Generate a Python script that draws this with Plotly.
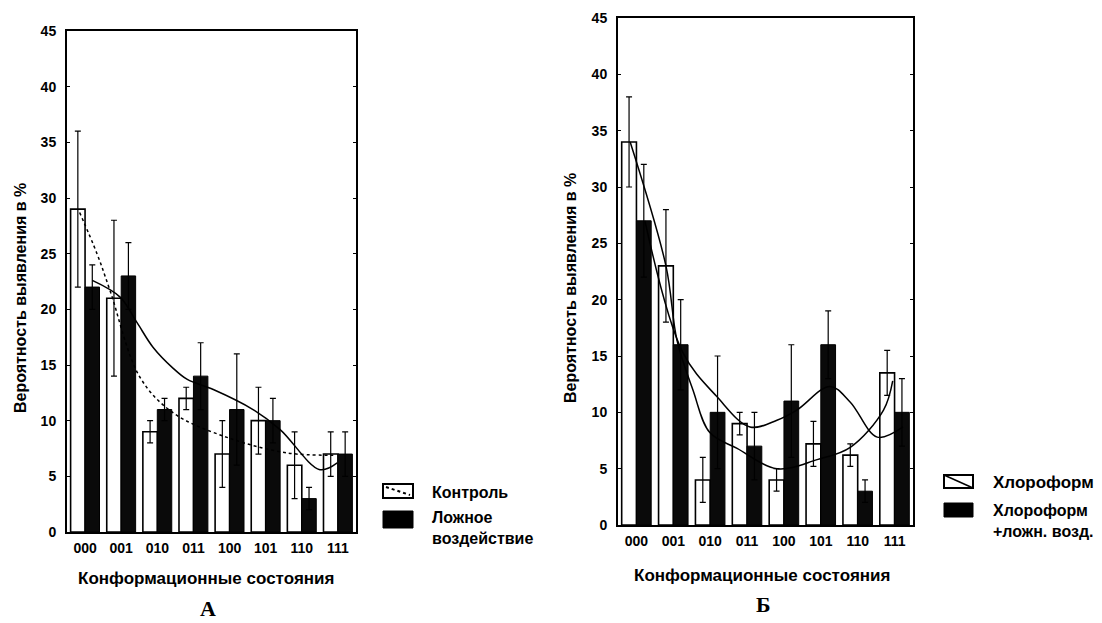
import plotly.graph_objects as go

# ---------------- data ----------------
states = ["000", "001", "010", "011", "100", "101", "110", "111"]
x_pos = [0, 1, 2, 3, 4, 5, 6, 7]

# Panel A
control = [29, 21, 9, 12, 7, 10, 6, 7]
control_err = [7, 7, 1, 1, 3, 3, 3, 2]
sham = [22, 23, 11, 14, 11, 10, 3, 7]
sham_err = [2, 3, 1, 3, 5, 2, 1, 2]
control_fit_x = [-0.15, 0.33, 0.69, 1.52, 2.44, 3.93, 5.6, 6.87]
control_fit_y = [28.7, 25.0, 21.7, 13.9, 10.7, 8.5, 7.1, 6.9]
sham_fit_x = [0.2, 0.97, 1.44, 1.88, 2.44, 2.83, 3.55, 4.65, 5.4, 6.5, 6.98]
sham_fit_y = [22.6, 21.1, 18.8, 16.6, 14.7, 13.7, 12.8, 11.0, 9.2, 5.6, 6.2]

# Panel Б
chloro = [34, 23, 4, 9, 4, 7.2, 6.2, 13.5]
chloro_err = [4, 5, 2, 1, 1, 2, 1, 2]
chloro_sham = [27, 16, 10, 7, 11, 16, 3, 10]
chloro_sham_err = [5, 4, 5, 3, 5, 3, 1, 3]
chloro_fit_x = [-0.17, 0.8, 1.1, 1.53, 1.99, 2.73, 3.81, 4.9, 5.8, 6.7, 6.95]
chloro_fit_y = [34, 23, 16.4, 12, 8.2, 6.8, 5.0, 5.8, 6.9, 10.2, 12.8]
chloro_sham_fit_x = [0.23, 1.26, 2.18, 3.08, 3.81, 4.35, 5.25, 5.8, 6.53, 7.23]
chloro_sham_fit_y = [27, 15.3, 11.4, 8.7, 9.3, 10.2, 12.3, 10.9, 7.8, 8.7]

y_ticks = [0, 5, 10, 15, 20, 25, 30, 35, 40, 45]

FONT = "Liberation Sans"
W, H = 1102, 623
OFF = 8  # page body margin of the html

fig = go.Figure()

def add_panel(xa, ya, white, werr, black, berr, wfx, wfy, bfx, bfy, wdash):
    fig.add_trace(go.Bar(
        x=x_pos, y=white, xaxis=xa, yaxis=ya, offsetgroup="w",
        marker=dict(color="white", line=dict(color="black", width=1.6)),
        error_y=dict(type="data", array=werr, color="black", thickness=1.2, width=3),
        showlegend=False))
    fig.add_trace(go.Bar(
        x=x_pos, y=black, xaxis=xa, yaxis=ya, offsetgroup="b",
        marker=dict(color="#0a0a0a", line=dict(color="black", width=1)),
        error_y=dict(type="data", array=berr, color="black", thickness=1.2, width=3),
        showlegend=False))
    fig.add_trace(go.Scatter(
        x=wfx, y=wfy, xaxis=xa, yaxis=ya, mode="lines",
        line=dict(color="black", width=1.5, dash=wdash, shape="spline", smoothing=1.0),
        showlegend=False))
    fig.add_trace(go.Scatter(
        x=bfx, y=bfy, xaxis=xa, yaxis=ya, mode="lines",
        line=dict(color="black", width=1.5, shape="spline", smoothing=1.0),
        showlegend=False))

add_panel("x", "y", control, control_err, sham, sham_err,
          control_fit_x, control_fit_y, sham_fit_x, sham_fit_y, "dot")
add_panel("x2", "y2", chloro, chloro_err, chloro_sham, chloro_sham_err,
          chloro_fit_x, chloro_fit_y, chloro_sham_fit_x, chloro_sham_fit_y, "solid")

def px(v):
    return (v - OFF) / W

def py(v):
    return 1 - (v - OFF) / H

tickfont = dict(family=FONT, size=14, color="black", weight=700)

xax = dict(range=[-0.5, 7.5], tickvals=x_pos, ticktext=states, tickfont=tickfont,
           showline=True, linecolor="black", linewidth=2, mirror=True,
           showgrid=False, zeroline=False, ticks="", automargin=False,
           ticklabelstandoff=2)
yax = dict(range=[0, 45], tickvals=y_ticks, tickfont=tickfont,
           showline=True, linecolor="black", linewidth=2, mirror="allticks",
           ticks="inside", ticklen=3, tickcolor="black",
           showgrid=False, zeroline=False, automargin=False,
           ticklabelstandoff=6)

fig.update_layout(
    width=W, height=H,
    margin=dict(l=0, r=0, t=0, b=0, autoexpand=False),
    paper_bgcolor="white", plot_bgcolor="white",
    barmode="group", bargap=0.2, bargroupgap=0,
    xaxis=dict(xax, domain=[px(67), px(356)], anchor="y"),
    yaxis=dict(yax, domain=[py(532), py(31)], anchor="x"),
    xaxis2=dict(xax, domain=[px(618), px(913)], anchor="y2"),
    yaxis2=dict(yax, domain=[py(525), py(18)], anchor="x2"),
)

def fnt(size, family=FONT):
    return dict(family=family, size=size, color="black")

def ann(x, y, text, size=16, **kw):
    d = dict(x=px(x), y=py(y), xref="paper", yref="paper", text=text,
             showarrow=False, xanchor="center", yanchor="middle",
             font=kw.pop("font", fnt(size)))
    d.update(kw)
    return d

annotations = [
    ann(20, 298, "<b>Вероятность выявления в %</b>", size=16, textangle=-90),
    ann(570, 288, "<b>Вероятность выявления в %</b>", size=16, textangle=-90),
    ann(206, 578, "<b>Конформационные состояния</b>", size=17),
    ann(762, 575, "<b>Конформационные состояния</b>", size=17),
    ann(208, 608, "<b>А</b>", font=fnt(22, "Liberation Serif")),
    ann(763, 604, "<b>Б</b>", font=fnt(22, "Liberation Serif")),
    # legend A
    ann(430, 492, "<b>Контроль</b>", size=16, xanchor="left"),
    ann(430, 528, "<b>Ложное<br>воздействие</b>", size=16, xanchor="left", align="left"),
    # legend Б
    ann(991, 482, "<b>Хлороформ</b>", size=17, xanchor="left"),
    ann(991, 521, "<b>Хлороформ<br>+ложн. возд.</b>", size=16, xanchor="left", align="left"),
]
fig.update_layout(annotations=annotations)

def rect(x0, x1, y0, y1, fill, lw):
    return dict(type="rect", xref="paper", yref="paper", x0=px(x0), x1=px(x1),
                y0=py(y1), y1=py(y0), line=dict(color="black", width=lw), fillcolor=fill)

shapes = [
    # legend A swatches
    rect(383, 413, 484, 498, "white", 2),
    dict(type="line", xref="paper", yref="paper", x0=px(386), x1=px(410), y0=py(487), y1=py(495),
         line=dict(color="black", width=2, dash="dot")),
    rect(383, 413, 511, 528, "black", 1),
    # legend Б swatches
    rect(944, 973, 475, 488, "white", 2),
    dict(type="line", xref="paper", yref="paper", x0=px(944), x1=px(973), y0=py(475), y1=py(488),
         line=dict(color="black", width=1.5)),
    rect(944, 973, 503, 517, "black", 1),
]
fig.update_layout(shapes=shapes)

fig.write_html("out.html")
